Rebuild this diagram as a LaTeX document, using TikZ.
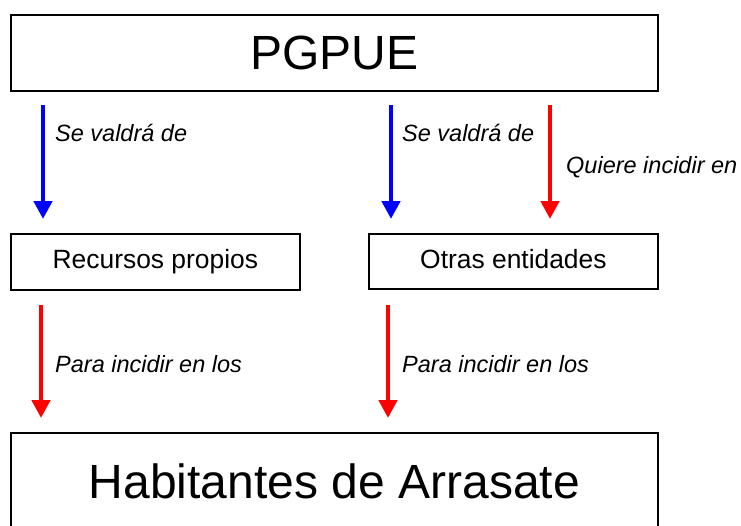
\documentclass[tikz,border=0pt]{standalone}
\usepackage{fontspec}
\setmainfont{Liberation Sans}
\usetikzlibrary{arrows.meta,calc}
\begin{document}
\begin{tikzpicture}[x=1pt,y=-1pt,
  box/.style={draw=black,line width=1.8pt,inner sep=0pt,anchor=north west},
  bigtext/.style={font=\fontsize{48}{56}\selectfont},
  midtext/.style={font=\fontsize{26.4}{31}\selectfont,text height=19pt,text depth=5.5pt},
  arr/.style={line width=4.5pt,-{Triangle[width=18pt,length=18pt]}},
  bluearr/.style={arr,draw={rgb,255:red,0;green,0;blue,255}},
  redarr/.style={arr,draw={rgb,255:red,255;green,0;blue,0}},
  lbl/.style={anchor=west,inner sep=0pt,font=\fontsize{23.5}{28}\selectfont\itshape}]
\useasboundingbox (0,0) rectangle (741,525);
% boxes
\node[box,bigtext,minimum width=647pt,minimum height=76pt] (top) at (10,14) {PGPUE};
\node[box,midtext,minimum width=289pt,minimum height=56pt] (rp) at (10,233) {Recursos propios};
\node[box,midtext,minimum width=289pt,minimum height=55pt] (ot) at (368,233) {Otras entidades};
\node[box,bigtext,minimum width=647pt,minimum height=100pt] (hab) at (10,432) {\raisebox{4pt}{Habitantes de Arrasate}};
% connectors
\draw[bluearr] ($(top.south west)+(33,13)$) -- ($(rp.north west)+(33,-14)$);
\draw[bluearr] ($(top.south west)+(381,13)$) -- ($(ot.north west)+(23,-14)$);
\draw[redarr] ($(top.south west)+(540,13)$) -- ($(ot.north west)+(182,-14)$);
\draw[redarr] ($(rp.south west)+(31,14)$) -- ($(hab.north west)+(31,-14)$);
\draw[redarr] ($(ot.south west)+(20,15)$) -- ($(hab.north west)+(378,-14)$);
% labels
\node[lbl] (l1) at (55,133) {Se valdrá de};
\node[lbl] (l2) at (402,133) {Se valdrá de};
\node[lbl] (l3) at (566,167) {Quiere incidir en};
\node[lbl] (l4) at (55,364) {Para incidir en los};
\node[lbl] (l5) at (402,364) {Para incidir en los};
\end{tikzpicture}
\end{document}
